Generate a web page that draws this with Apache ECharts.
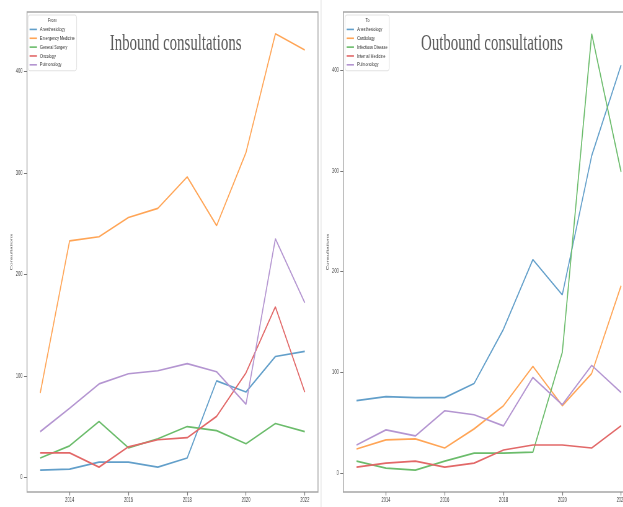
<!DOCTYPE html>
<html>
<head>
<meta charset="utf-8">
<script src="https://cdn.jsdelivr.net/npm/echarts@6/dist/echarts.min.js"></script>
<style>
  html, body { margin: 0; padding: 0; background: #fff; overflow: hidden; width: 623px; height: 507px; }
  /* The figure is laid out wide and squeezed horizontally to its final width */
  #chart { width: 1005px; height: 507px; transform: scaleX(0.62); transform-origin: 0 0; }
</style>
</head>
<body>
<div id="chart"></div>
<script>
// ---- data ----
const years = [2013, 2014, 2015, 2016, 2017, 2018, 2019, 2020, 2021, 2022];
const xTicks = [2014, 2016, 2018, 2020, 2022];
const yTicks = [0, 100, 200, 300, 400];

const inboundNames = ['Anesthesiology', 'Emergency Medicine', 'General Surgery', 'Oncology', 'Pulmonology'];
const inAnesthesiology     = [7, 8, 15, 15, 10, 19, 95, 84, 119, 124];
const inEmergencyMedicine  = [83, 233, 237, 256, 265, 296, 248, 320, 437, 421];
const inGeneralSurgery     = [19, 31, 55, 29, 38, 50, 46, 33, 53, 45];
const inOncology           = [24, 24, 10, 30, 37, 39, 60, 103, 168, 84];
const inPulmonology        = [45, 68, 92, 102, 105, 112, 104, 72, 235, 172];

const outboundNames = ['Anesthesiology', 'Cardiology', 'Infectious Disease', 'Internal Medicine', 'Pulmonology'];
const outAnesthesiology    = [72, 76, 75, 75, 89, 143, 212, 177, 315, 405];
const outCardiology        = [24, 33, 34, 25, 44, 67, 106, 67, 99, 186];
const outInfectiousDisease = [12, 5, 3, 12, 20, 20, 21, 120, 436, 299];
const outInternalMedicine  = [6, 10, 12, 6, 10, 23, 28, 28, 25, 47];
const outPulmonology       = [28, 43, 37, 62, 58, 47, 95, 68, 107, 80];

const inboundValues  = [inAnesthesiology, inEmergencyMedicine, inGeneralSurgery, inOncology, inPulmonology];
const outboundValues = [outAnesthesiology, outCardiology, outInfectiousDisease, outInternalMedicine, outPulmonology];

// ---- layout helpers ----
const S = 0.62;                 // horizontal squeeze of the container
const px = x => x / S;          // final-pixel x -> layout x
const palette = ['#629fca', '#ffa556', '#6bbc6b', '#e26868', '#b495d1'];
const sans = 'Liberation Sans';

function pad(lo, hi) { const r = hi - lo; return [lo - 0.05 * r, hi + 0.05 * r]; }
function extent(arrs) {
  const all = [].concat(...arrs);
  return pad(Math.min(...all), Math.max(...all));
}
const xr = pad(years[0], years[years.length - 1]);
const yIn = extent(inboundValues);
const yOut = extent(outboundValues);

function xAxis(gi) {
  return {
    type: 'value', gridIndex: gi, min: xr[0], max: xr[1],
    name: 'Year', nameLocation: 'middle', nameGap: 12,
    nameTextStyle: { fontFamily: sans, fontSize: 6.5, color: '#444' },
    axisLine: { show: false, onZero: false },
    axisTick: { show: true, length: 3.5, customValues: xTicks, lineStyle: { color: '#777', width: 1.2 } },
    axisLabel: { customValues: xTicks, formatter: v => String(v), margin: 4.5,
                 fontFamily: sans, fontSize: 6.5, color: '#444' },
    splitLine: { show: false }
  };
}
function yAxis(gi, r, gap) {
  return {
    type: 'value', gridIndex: gi, min: r[0], max: r[1],
    name: 'Consultations', nameLocation: 'middle', nameGap: gap,
    nameTextStyle: { fontFamily: sans, fontSize: 6, color: '#444' },
    axisLine: { show: false },
    axisTick: { show: true, length: px(3), customValues: yTicks, lineStyle: { color: '#777', width: 1 } },
    axisLabel: { customValues: yTicks, formatter: v => String(v), margin: px(4.5),
                 fontFamily: sans, fontSize: 6.5, color: '#444' },
    splitLine: { show: false }
  };
}
function makeSeries(names, values, gi) {
  return names.map((n, i) => ({
    name: n, type: 'line', xAxisIndex: gi, yAxisIndex: gi,
    data: years.map((y, k) => [y, values[i][k]]),
    showSymbol: false, symbol: 'none', silent: true,
    lineStyle: { color: palette[i], width: 1.7 },
    itemStyle: { color: palette[i] }
  }));
}
function legend(names, left) {
  return {
    data: names, orient: 'vertical', left: left, top: 15,
    padding: [10, 3, 1.5, 2.5], itemGap: 0,
    icon: 'rect', itemWidth: px(7.4), itemHeight: 1.6,
    backgroundColor: '#fff', borderColor: '#e2e2e2', borderWidth: 1, borderRadius: 3,
    textStyle: { fontFamily: sans, fontSize: 6, color: '#333', lineHeight: 8.85 },
    selectedMode: false
  };
}

const gridW = px(291);
const gridBase = { top: 12, width: gridW, height: 480, show: true, borderColor: '#a6a6a6', borderWidth: 1.4,
                   containLabel: false, outerBoundsMode: 'none' };
const chart = echarts.init(document.getElementById('chart'), null, { renderer: 'canvas' });
chart.setOption({
  animation: false,
  backgroundColor: '#fff',
  grid: [
    Object.assign({ left: px(27) }, gridBase),
    Object.assign({ left: px(343.3) }, gridBase)
  ],
  title: [
    { text: 'Inbound consultations', left: px(27) + gridW / 2, top: 27, textAlign: 'center',
      textStyle: { fontFamily: 'Liberation Serif', fontSize: 24, fontWeight: 'normal', color: '#5a5a5a' } },
    { text: 'Outbound consultations', left: px(343.3) + gridW / 2, top: 27, textAlign: 'center',
      textStyle: { fontFamily: 'Liberation Serif', fontSize: 24, fontWeight: 'normal', color: '#5a5a5a' } }
  ],
  xAxis: [xAxis(0), xAxis(1)],
  yAxis: [yAxis(0, yIn, px(13.7)), yAxis(1, yOut, px(12.3))],
  legend: [legend(inboundNames, px(28)), legend(outboundNames, px(345))],
  graphic: [
    { type: 'text', left: px(53) - 8, top: 17, style: { text: 'From', font: '6px "Liberation Sans"', fill: '#333' }, z: 100 },
    { type: 'text', left: px(368) - 4, top: 17, style: { text: 'To', font: '6px "Liberation Sans"', fill: '#333' }, z: 100 },
    { type: 'line', shape: { x1: px(321), y1: 0, x2: px(321), y2: 507 },
      style: { stroke: '#e6e6e6', lineWidth: 1.6 } }
  ],
  series: [...makeSeries(inboundNames, inboundValues, 0), ...makeSeries(outboundNames, outboundValues, 1)]
});
</script>
</body>
</html>
